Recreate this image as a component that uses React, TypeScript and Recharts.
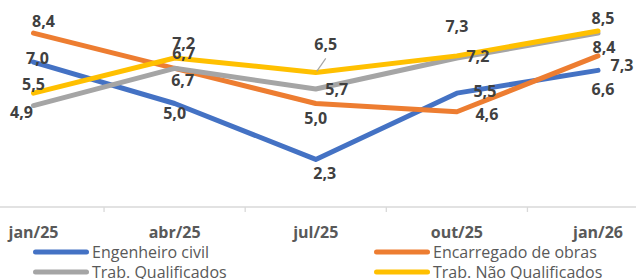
import React from 'react';
import { LineChart, Line, XAxis, YAxis, Legend, LabelList } from 'recharts';

const categories = ['jan/25', 'abr/25', 'jul/25', 'out/25', 'jan/26'];
const engenheiroCivil = [7.0, 5.0, 2.3, 5.5, 6.6];
const encarregadoObras = [8.4, 6.7, 5.0, 4.6, 7.3];
const trabQualificados = [4.9, 6.7, 5.7, 7.2, 8.4];
const trabNaoQualificados = [5.5, 7.2, 6.5, 7.3, 8.5];

const data = categories.map((c, i) => ({
  cat: c,
  eng: engenheiroCivil[i],
  enc: encarregadoObras[i],
  qual: trabQualificados[i],
  naoq: trabNaoQualificados[i],
}));

const W = 636;
const H = 279;
const PAD_L = 33.5;
const PAD_R = 38;
const HALF_GAP = (W - PAD_L - PAD_R) / (categories.length - 1) / 2;

// label placement (dx, dy of label centre from the point)
const labelPlacement: Record<string, [number, number][]> = {
  eng: [[4, -4], [0, 9], [9, 14], [28, -2], [5, 19]],
  enc: [[10, -12], [9, -15], [0, 14], [30, 2], [24, 9]],
  qual: [[-12, 6], [8, 12], [21, 0], [21, -2], [6, 14]],
  naoq: [[0, -9], [9, -15], [10, -28], [0, -30], [5, -13]],
};
const leaderLines: Record<string, number[]> = { naoq: [2] };

const FONT = '"Open Sans", sans-serif';

const series = [
  { key: 'eng', name: 'Engenheiro civil', color: '#4472C4' },
  { key: 'enc', name: 'Encarregado de obras', color: '#ED7D31' },
  { key: 'qual', name: 'Trab. Qualificados', color: '#A5A5A5' },
  { key: 'naoq', name: 'Trab. Não Qualificados', color: '#FFC000' },
];

const makeLabel = (key: string) => (props: any) => {
  const { x, y, value, index } = props;
  const [dx, dy] = labelPlacement[key][index] || [0, -12];
  const txt = Number(value).toFixed(1).replace('.', ',');
  const hasLeader = (leaderLines[key] || []).includes(index);
  return (
    <g>
      {hasLeader && (
        <line x1={x + 1} y1={y - 1} x2={x + dx} y2={y + dy + 14} stroke="#A6A6A6" strokeWidth={1.2} />
      )}
      <text
        x={x + dx}
        y={y + dy + 6}
        textAnchor="middle"
        fill="#404040"
        fontFamily={FONT}
        fontWeight={700}
        fontSize={16}
      >
        {txt}
      </text>
    </g>
  );
};

const Tick = (props: any) => {
  const { x, y, payload, index } = props;
  return (
    <g>
      {index > 0 && (
        <line x1={x - HALF_GAP} x2={x - HALF_GAP} y1={y} y2={y + 5} stroke="#D9D9D9" strokeWidth={1.3} />
      )}
      <text
        x={x}
        y={y + 31}
        textAnchor="middle"
        fill="#595959"
        fontFamily={FONT}
        fontWeight={700}
        fontSize={16}
      >
        {payload.value}
      </text>
    </g>
  );
};

const renderLegend = (props: any) => {
  const order = series.map((s) => s.name);
  const payload = [...(props.payload || [])].sort(
    (a: any, b: any) => order.indexOf(a.value) - order.indexOf(b.value)
  );
  const colX = [33, 374];
  return (
    <svg width={W} height={40} style={{ display: 'block' }}>
      {payload.map((p: any, i: number) => {
        const cx = colX[i % 2];
        const cy = 10 + Math.floor(i / 2) * 20;
        return (
          <g key={i}>
            <line x1={cx + 2.5} x2={cx + 53.5} y1={cy} y2={cy} stroke={p.color} strokeWidth={5} strokeLinecap="round" />
            <text x={cx + 59} y={cy + 6} fill="#595959" fontFamily={FONT} fontSize={16}>
              {p.value}
            </text>
          </g>
        );
      })}
    </svg>
  );
};

export default function App() {
  return (
    <div style={{ position: 'absolute', left: 0, top: 0, background: '#fff' }}>
      <LineChart width={W} height={H} data={data} margin={{ top: 0, right: 0, bottom: 0, left: 0 }}>
        <XAxis
          dataKey="cat"
          height={72}
          interval={0}
          padding={{ left: PAD_L, right: PAD_R }}
          axisLine={{ stroke: '#D9D9D9', strokeWidth: 1.3 }}
          tickLine={false}
          tickSize={0}
          tickMargin={0}
          tick={<Tick />}
        />
        <YAxis hide domain={[0, 10]} />
        <Legend
          layout="horizontal"
          verticalAlign="middle"
          align="center"
          wrapperStyle={{ position: 'absolute', left: 0, top: 242, width: W, height: 40 }}
          content={renderLegend}
        />
        {series.map((s) => (
          <Line
            key={s.key}
            type="linear"
            dataKey={s.key}
            name={s.name}
            stroke={s.color}
            strokeWidth={5}
            strokeLinecap="round"
            strokeLinejoin="round"
            dot={false}
            activeDot={false}
            isAnimationActive={false}
          >
            <LabelList dataKey={s.key} content={makeLabel(s.key)} />
          </Line>
        ))}
      </LineChart>
    </div>
  );
}
